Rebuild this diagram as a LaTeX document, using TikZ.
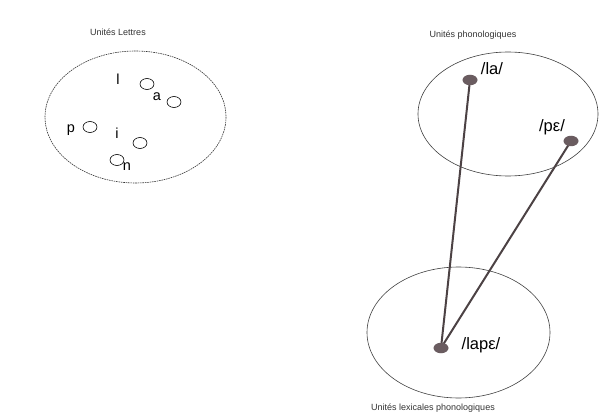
\documentclass[tikz,border=0pt]{standalone}
\usepackage{fontspec}
\setmainfont{Liberation Sans}
\usetikzlibrary{shapes.geometric}
\definecolor{dotgray}{HTML}{6A5C60}
\definecolor{linkgray}{HTML}{4C4244}

\begin{document}
\begin{tikzpicture}[x=1pt,y=-1pt,line width=.6pt,
  title/.style={anchor=center,inner sep=1pt,text=black!80,font=\fontsize{9}{11}\selectfont},
  letter/.style={anchor=center,inner sep=1pt,font=\fontsize{14.5}{16}\selectfont},
  phon/.style={anchor=center,inner sep=1pt,font=\fontsize{16.5}{18}\selectfont},
  dot/.style={ellipse,fill=dotgray,minimum width=15,minimum height=10.5,inner sep=0pt},
  link/.style={line width=2pt,draw=linkgray}]
\path[use as bounding box] (0,0) rectangle (600,417);
% letters
\node[title] (tlet) at (118,32) {Unités Lettres};
\draw[gray!40!black,dash pattern=on 1.6pt off .8pt] (135.5,117) ellipse [x radius=90.5,y radius=66];
\node[letter] (l) at (118,79) {l};
\draw (147,84) ellipse [x radius=7,y radius=5.5];
\node[letter] (a) at (157,97) {a};
\draw (174,102) ellipse [x radius=7,y radius=5.5];
\node[letter] (p) at (71,130) {p};
\draw (90,127) ellipse [x radius=7,y radius=5.5];
\node[letter] (i) at (117,133) {i};
\draw (140,143) ellipse [x radius=7,y radius=5.5];
\draw (117,160) ellipse [x radius=7,y radius=5.5];
\node[letter] (n) at (127,167) {n};
% phonological units
\node[title] (tphon) at (473,35) {Unités phonologiques};
\draw[gray!50!black] (508,114) ellipse [x radius=90,y radius=62];
\coordinate (cla) at (470,80);
\coordinate (cpe) at (571,141);
\node[phon] (tla) at (492,69) {/la/};
\node[phon] (tpe) at (552,127) {/pε/};
% lexical units
\draw[gray!50!black] (458.5,332.5) ellipse [x radius=91.5,y radius=65.5];
\coordinate (clape) at (441,348);
\node[phon] (tlape) at (481,345) {/lapε/};
\node[title] (tlex) at (433,408) {Unités lexicales phonologiques};
\draw[link] (clape) -- (cla);
\draw[link] (clape) -- (cpe);
\node[dot] (la) at (cla) {};
\node[dot] (pe) at (cpe) {};
\node[dot] (lape) at (clape) {};
\end{tikzpicture}
\end{document}
